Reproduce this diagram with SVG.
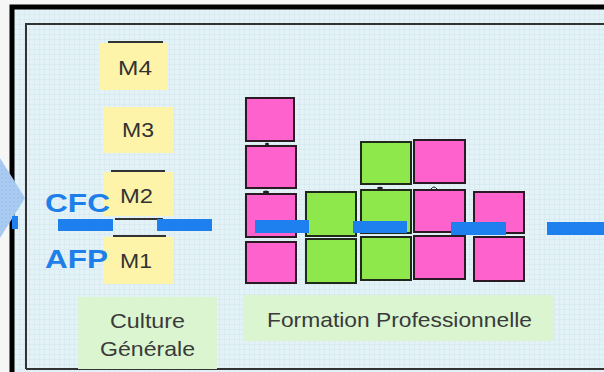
<svg xmlns="http://www.w3.org/2000/svg" width="604" height="372" viewBox="0 0 604 372">
<style>
.pink{fill:#fe63cd;stroke:#2a1a24;stroke-width:2}
.green{fill:#8ee84c;stroke:#1f2a1a;stroke-width:2}
.mod{fill:#fdf3a9}
.mtxt{font-family:"Liberation Sans",Arial,sans-serif;font-size:21px;fill:#333;text-anchor:start}
.lbl{font-family:"Liberation Sans",Arial,sans-serif;font-size:21px;fill:#3a3a3a}
.big{font-family:"Liberation Sans",Arial,sans-serif;font-size:26px;font-weight:bold;fill:#1e7fea}
.dash{fill:#1e80ee}
.bar{stroke:#333;stroke-width:2}
</style>
<defs>
<pattern id="grid" width="5" height="5" patternUnits="userSpaceOnUse">
<rect width="5" height="5" fill="#e3f2f6"/>
<path d="M5 0V5H0" fill="none" stroke="#cde2ea" stroke-width="0.8"/>
</pattern>
<pattern id="dots" width="4" height="4" patternUnits="userSpaceOnUse">
<rect width="4" height="4" fill="#a9cbf2"/>
<circle cx="2" cy="2" r="0.7" fill="#8fb6e6"/>
</pattern>
</defs>
<rect width="604" height="372" fill="#f6f6f6"/>
<rect x="12" y="7" width="592" height="365" fill="url(#grid)"/>
<path d="M12 372V7H604" fill="none" stroke="#000" stroke-width="5"/>
<path d="M26 369V24H604M26 369H604" fill="none" stroke="#333" stroke-width="2"/>
<polygon points="0,158 25,198 0,238" fill="url(#dots)"/>
<rect x="12" y="216" width="6" height="13" fill="#1e80ee"/>

<g id="culture-label">
<rect x="78" y="297" width="139" height="72" fill="#daf5d0"/>
<text class="lbl" x="110" y="328" textLength="75" lengthAdjust="spacingAndGlyphs">Culture</text>
<text class="lbl" x="100" y="356" textLength="95" lengthAdjust="spacingAndGlyphs">Générale</text>
</g>
<g id="formation-label">
<rect x="243" y="295" width="311" height="46" fill="#daf5d0"/>
<text class="lbl" x="267" y="327" textLength="265" lengthAdjust="spacingAndGlyphs">Formation Professionnelle</text>
</g>

<g id="M4">
<rect class="mod" x="99" y="43" width="69" height="47"/>
<line class="bar" x1="108" y1="42" x2="163" y2="42"/>
<text class="mtxt" x="118" y="75" textLength="34" lengthAdjust="spacingAndGlyphs">M4</text>
</g>
<g id="M3">
<rect class="mod" x="103" y="107" width="70" height="46"/>
<text class="mtxt" x="122" y="137" textLength="32" lengthAdjust="spacingAndGlyphs">M3</text>
</g>
<g id="M2">
<rect class="mod" x="103" y="172" width="70" height="44"/>
<line class="bar" x1="111" y1="171" x2="165" y2="171"/>
<text class="mtxt" x="120" y="203" textLength="33" lengthAdjust="spacingAndGlyphs">M2</text>
</g>
<g id="M1">
<rect class="mod" x="103" y="237" width="70" height="47"/>
<line class="bar" x1="115" y1="219" x2="163" y2="219"/>
<line class="bar" x1="113" y1="236" x2="166" y2="236"/>
<text class="mtxt" x="120" y="268" textLength="32" lengthAdjust="spacingAndGlyphs">M1</text>
</g>

<g id="CFC"><text class="big" x="45" y="212" textLength="65" lengthAdjust="spacingAndGlyphs">CFC</text></g>
<g id="AFP"><text class="big" x="45" y="268" textLength="63" lengthAdjust="spacingAndGlyphs">AFP</text></g>

<g id="col1">
<rect class="pink" x="246" y="98" width="48" height="43"/>
<rect class="pink" x="246" y="146" width="50" height="42"/>
<rect class="pink" x="246" y="194" width="50" height="43"/>
<rect class="pink" x="246" y="242" width="50" height="41"/>
</g>
<g id="col2">
<rect class="green" x="306" y="192" width="50" height="44"/>
<rect class="green" x="306" y="239" width="50" height="44"/>
</g>
<g id="col3">
<rect class="green" x="361" y="142" width="50" height="42"/>
<rect class="green" x="361" y="190" width="50" height="43"/>
<rect class="green" x="361" y="237" width="50" height="43"/>
</g>
<g id="col4">
<rect class="pink" x="414" y="140" width="51" height="43"/>
<rect class="pink" x="414" y="190" width="51" height="42"/>
<rect class="pink" x="414" y="236" width="51" height="43"/>
</g>
<g id="col5">
<rect class="pink" x="474" y="192" width="50" height="41"/>
<rect class="pink" x="474" y="237" width="50" height="44"/>
</g>

<g id="connectors">
<rect class="dash" x="58" y="219" width="55" height="12"/>
<rect class="dash" x="157" y="219" width="55" height="12"/>
<rect class="dash" x="255" y="220" width="54" height="13"/>
<rect class="dash" x="353" y="221" width="54" height="12"/>
<rect class="dash" x="451" y="222" width="55" height="13"/>
<rect class="dash" x="547" y="222" width="57" height="13"/>
<ellipse cx="267" cy="144" rx="2" ry="1.2" fill="#222"/>
<ellipse cx="266" cy="192" rx="3" ry="1.5" fill="#222"/>
<ellipse cx="380" cy="188" rx="3" ry="1.2" fill="#222"/>
<path d="M431 189q3-4 6 0" fill="none" stroke="#222" stroke-width="1"/>
</g>
</svg>
